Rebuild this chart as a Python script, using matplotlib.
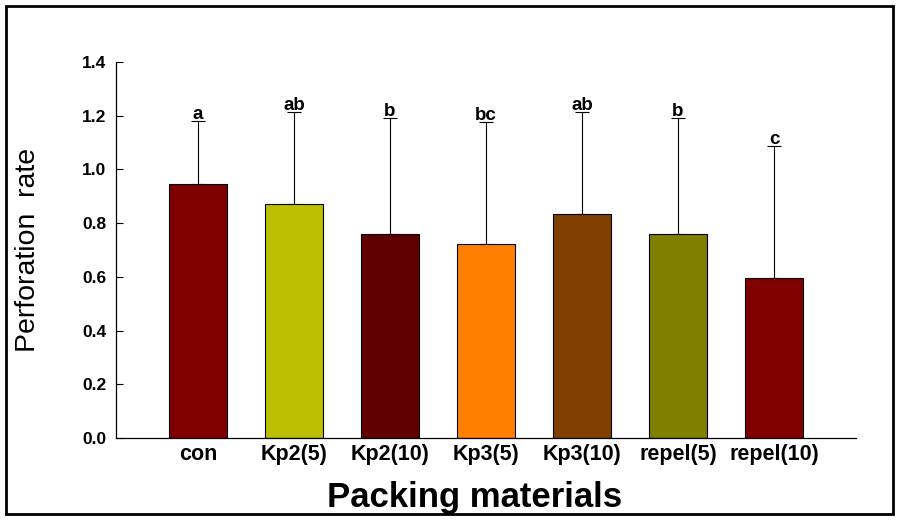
import matplotlib
matplotlib.use("Agg")
import matplotlib.pyplot as plt
from matplotlib.patches import Rectangle

plt.rcParams["font.family"] = ["Liberation Sans", "DejaVu Sans"]

# data
categories = ["con", "Kp2(5)", "Kp2(10)", "Kp3(5)", "Kp3(10)", "repel(5)", "repel(10)"]
means = [0.944, 0.870, 0.758, 0.721, 0.833, 0.758, 0.595]
errors = [0.236, 0.342, 0.435, 0.454, 0.379, 0.434, 0.493]
letters = ["a", "ab", "b", "bc", "ab", "b", "c"]
colors = ["#800000", "#BBBF00", "#600000", "#FF8000", "#804000", "#808000", "#800000"]
yticks = [0.0, 0.2, 0.4, 0.6, 0.8, 1.0, 1.2, 1.4]

W, H = 904, 524
fig = plt.figure(figsize=(W / 100, H / 100), dpi=100)
ax = fig.add_axes([116 / W, 1 - 438 / H, (856 - 116) / W, (438 - 62) / H])

x = range(len(categories))
ax.bar(x, means, width=0.6, color=colors, edgecolor="black", linewidth=0.8, zorder=2)
ax.errorbar(x, means, yerr=[[0] * len(errors), errors], fmt="none",
            ecolor="black", elinewidth=0.8, capsize=5, capthick=0.8, zorder=1)

for i, (m, e, lab) in enumerate(zip(means, errors, letters)):
    ax.annotate(lab, (i, m + e), xytext=(0, 1.5), textcoords="offset points",
                ha="center", va="baseline", fontsize=13.5, fontweight="bold")

ax.set_xlim(-0.854, 6.854)
ax.set_ylim(0, 1.4)
ax.set_yticks(yticks)
ax.set_yticklabels([f"{v:.1f}" for v in yticks], fontsize=12.5, fontweight="bold")
ax.set_xticks(list(x))
ax.set_xticklabels(categories, fontsize=15.5, fontweight="bold")
ax.tick_params(axis="y", direction="in", length=5, width=0.8, pad=7)
ax.tick_params(axis="x", length=0, pad=4)

for s in ["top", "right"]:
    ax.spines[s].set_visible(False)
for s in ["left", "bottom"]:
    ax.spines[s].set_linewidth(0.9)

fig.text(28 / W, 1 - 250 / H, "Perforation  rate", rotation=90,
         ha="center", va="center", fontsize=20.5)
fig.text(475 / W, 1 - 497 / H, "Packing materials", ha="center", va="center",
         fontsize=25, fontweight="bold")

# outer frame round the whole picture
fig.patches.append(Rectangle((6 / W, 1 - 514 / H), (893 - 6) / W, (514 - 6) / H,
                             transform=fig.transFigure, fill=False,
                             edgecolor="black", linewidth=2))

fig.savefig("out.png", dpi=100)
